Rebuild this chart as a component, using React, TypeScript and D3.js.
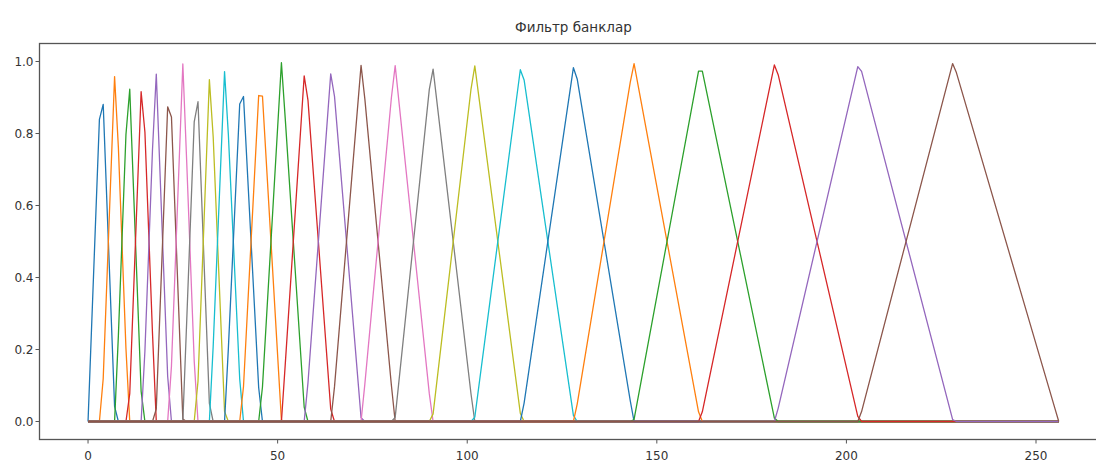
import React from "react";
import * as d3 from "d3";

// Mel filter bank: 26 triangular filters over 257 FFT bins.
// Each filter: polyline vertices [bin, weight] where the sampled shape changes slope.
const title = "Фильтр банклар";
const lastBin = 256;
const xTicks = [0, 50, 100, 150, 200, 250];
const yTicks = [0.0, 0.2, 0.4, 0.6, 0.8, 1.0];
const palette = ["#1f77b4", "#ff7f0e", "#2ca02c", "#d62728", "#9467bd", "#8c564b", "#e377c2", "#7f7f7f", "#bcbd22", "#17becf"];

const filterVertices: [number, number][][] = [
  [[0, 0], [3, 0.8392], [4, 0.8811], [7, 0.0419], [8, 0]],
  [[3, 0], [4, 0.1189], [7, 0.9581], [8, 0.7622], [10, 0.2028], [11, 0]],
  [[7, 0], [8, 0.2378], [10, 0.7972], [11, 0.923], [14, 0.0839], [15, 0]],
  [[10, 0], [11, 0.077], [14, 0.9161], [15, 0.8042], [17, 0.2447], [18, 0]],
  [[14, 0], [15, 0.1958], [17, 0.7553], [18, 0.965], [21, 0.1258], [22, 0]],
  [[17, 0], [18, 0.035], [21, 0.8742], [22, 0.8461], [25, 0.0069], [26, 0]],
  [[21, 0], [22, 0.1539], [25, 0.9931], [26, 0.7272], [28, 0.1678], [29, 0]],
  [[25, 0], [26, 0.2728], [28, 0.8322], [29, 0.8882], [32, 0.0504], [33, 0]],
  [[28, 0], [29, 0.1118], [32, 0.9496], [33, 0.7915], [36, 0.0281], [37, 0]],
  [[32, 0], [33, 0.2085], [36, 0.9719], [37, 0.7982], [40, 0.1179], [41, 0]],
  [[36, 0], [37, 0.2018], [40, 0.8821], [41, 0.9029], [45, 0.0945], [46, 0]],
  [[40, 0], [41, 0.0971], [45, 0.9055], [46, 0.9041], [51, 0.0035], [52, 0]],
  [[45, 0], [46, 0.0959], [51, 0.9965], [52, 0.8427], [57, 0.0401], [58, 0]],
  [[51, 0], [52, 0.1573], [57, 0.9599], [58, 0.8927], [64, 0.0344], [65, 0]],
  [[57, 0], [58, 0.1073], [64, 0.9656], [65, 0.9032], [72, 0.0108], [73, 0]],
  [[64, 0], [65, 0.0968], [72, 0.9892], [73, 0.8961], [80, 0.1008], [81, 0]],
  [[72, 0], [73, 0.1039], [80, 0.8992], [81, 0.9886], [90, 0.0774], [91, 0]],
  [[80, 0], [81, 0.0114], [90, 0.9226], [91, 0.9788], [101, 0.0765], [102, 0]],
  [[90, 0], [91, 0.0212], [101, 0.9235], [102, 0.9878], [114, 0.0229], [115, 0]],
  [[101, 0], [102, 0.0122], [114, 0.9771], [115, 0.9488], [128, 0.0172], [129, 0]],
  [[114, 0], [115, 0.0512], [128, 0.9828], [129, 0.9515], [143, 0.0575], [144, 0]],
  [[128, 0], [129, 0.0485], [143, 0.9425], [144, 0.9943], [161, 0.0268], [162, 0]],
  [[143, 0], [144, 0.0057], [161, 0.9732], [162, 0.9732], [181, 0.0096], [182, 0]],
  [[161, 0], [162, 0.0268], [181, 0.9904], [182, 0.9634], [203, 0.0142], [204, 0]],
  [[181, 0], [182, 0.0366], [203, 0.9858], [204, 0.9724], [228, 0.0057], [229, 0]],
  [[203, 0], [204, 0.0276], [228, 0.9943], [229, 0.9692], [255, 0.0359], [256, 0]],
];

const W = 1096;
const H = 464;
const left = 39.5;
const right = 1107.3;
const top = 43.5;
const bottom = 439.5;

export default function App() {
  const xMargin = lastBin * 0.05;
  const x = d3.scaleLinear().domain([0 - xMargin, lastBin + xMargin]).range([left, right]);
  const y = d3.scaleLinear().domain([-0.05, 1.05]).range([bottom, top]);
  const line = d3
    .line<[number, number]>()
    .x((d) => x(d[0]))
    .y((d) => y(d[1]));

  const font = "'DejaVu Sans', sans-serif";
  const axisColor = "#555";
  const textColor = "#333";

  return (
    <svg
      width={W}
      height={H}
      style={{ position: "absolute", left: 0, top: 0, background: "#fff" }}
      fontFamily={font}
    >
      <rect x={0} y={0} width={W} height={H} fill="#fff" />
      <defs>
        <clipPath id="plotclip">
          <rect x={left} y={top} width={right - left} height={bottom - top} />
        </clipPath>
      </defs>
      <g clipPath="url(#plotclip)">
        {filterVertices.map((verts, i) => {
          const pts: [number, number][] = [[0, 0], ...verts, [lastBin, 0]];
          return (
            <path
              key={i}
              d={line(pts) || ""}
              fill="none"
              stroke={palette[i % palette.length]}
              strokeWidth={1.3}
              strokeLinejoin="round"
            />
          );
        })}
      </g>
      {/* spines */}
      <rect x={left} y={top} width={right - left} height={bottom - top} fill="none" stroke={axisColor} strokeWidth={1.3} />
      {/* x ticks */}
      {xTicks.map((t) => (
        <g key={"x" + t}>
          <line x1={x(t)} x2={x(t)} y1={bottom} y2={bottom + 4} stroke={axisColor} strokeWidth={1} />
          <text x={x(t)} y={460} textAnchor="middle" fontSize={12} fill={textColor}>
            {t}
          </text>
        </g>
      ))}
      {/* y ticks */}
      {yTicks.map((t) => (
        <g key={"y" + t}>
          <line x1={left - 4} x2={left} y1={y(t)} y2={y(t)} stroke={axisColor} strokeWidth={1} />
          <text x={left - 6} y={y(t)} dy="0.35em" textAnchor="end" fontSize={12} fill={textColor}>
            {t.toFixed(1)}
          </text>
        </g>
      ))}
      <text x={(left + right) / 2} y={32} textAnchor="middle" fontSize={13.5} fill={textColor}>
        {title}
      </text>
    </svg>
  );
}
